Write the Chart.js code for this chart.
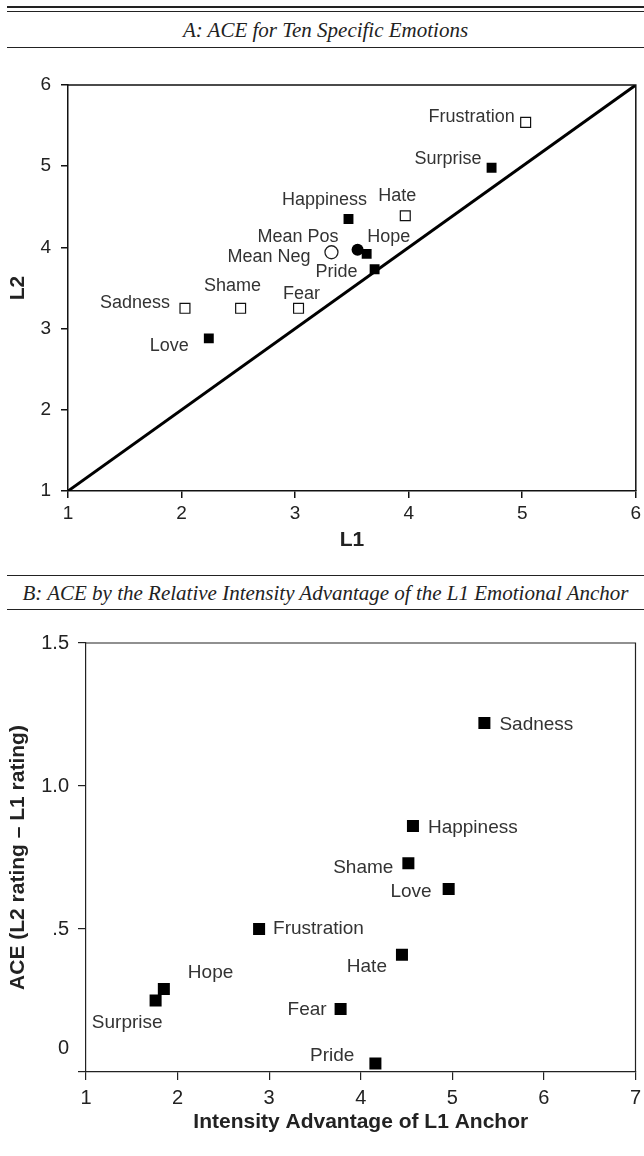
<!DOCTYPE html>
<html>
<head>
<meta charset="utf-8">
<script src="https://cdn.jsdelivr.net/npm/chart.js@4.4.1/dist/chart.umd.min.js"></script>
<style>
  html, body { margin: 0; padding: 0; background: #fff; }
  body { width: 644px; height: 1156px; position: relative; overflow: hidden; }
  .rule { position: absolute; left: 7px; right: 0; background: #222; }
  .title {
    position: absolute; left: 7px; right: 0; text-align: center;
    font: italic 21px "Liberation Serif", "Times New Roman", serif;
    color: #222; line-height: 24px;
  }
  .panel { position: absolute; left: 0; width: 644px; }
</style>
</head>
<body>
<div class="rule" style="top:6px;height:2px"></div>
<div class="rule" style="top:11px;height:1px"></div>
<div class="title" style="top:18px">A: ACE for Ten Specific Emotions</div>
<div class="rule" style="top:47px;height:1px"></div>
<div class="panel" style="top:60px;height:500px"><canvas id="chartA"></canvas></div>

<div class="rule" style="top:575px;height:1px"></div>
<div class="title" style="top:581px">B: ACE by the Relative Intensity Advantage of the L1 Emotional Anchor</div>
<div class="rule" style="top:609px;height:1px"></div>
<div class="panel" style="top:615px;height:530px"><canvas id="chartB"></canvas></div>

<script>
// ---- Panel A: mean L2 rating against mean L1 rating ----
const emotionsA = ['Frustration', 'Surprise', 'Happiness', 'Hate', 'Hope', 'Pride', 'Sadness', 'Shame', 'Fear', 'Love'];
const l1A = [5.03, 4.73, 3.47, 3.97, 3.63, 3.70, 2.03, 2.52, 3.03, 2.24];
const l2A = [5.54, 4.98, 4.35, 4.39, 3.92, 3.73, 3.25, 3.25, 3.25, 2.88];
const positiveA = [false, true, true, false, true, true, false, false, false, true];
const meanNames = ['Mean Pos', 'Mean Neg'];
const meanL1 = [3.55, 3.32];
const meanL2 = [3.97, 3.94];
const ticksA = [1, 2, 3, 4, 5, 6];

// ---- Panel B: ACE against intensity advantage ----
const emotionsB = ['Sadness', 'Happiness', 'Shame', 'Love', 'Frustration', 'Hate', 'Hope', 'Surprise', 'Fear', 'Pride'];
const advantageB = [5.35, 4.57, 4.52, 4.96, 2.89, 4.45, 1.85, 1.76, 3.78, 4.16];
const aceB = [1.22, 0.86, 0.73, 0.64, 0.50, 0.41, 0.29, 0.25, 0.22, 0.03];
const ticksBx = [1, 2, 3, 4, 5, 6, 7];
const ticksBy = [0, 0.5, 1.0, 1.5];
const tickLabelsBy = ['0', '.5', '1.0', '1.5'];

// label placement: [textAlign, dx, dy] from the marker centre
const placeA = {
  'Frustration': ['right', -11, -5],
  'Surprise': ['right', -10, -9],
  'Happiness': ['center', -24, -19],
  'Hate': ['center', -8, -20],
  'Hope': ['center', 22, -17],
  'Pride': ['right', -17, 3],
  'Sadness': ['right', -15, -5],
  'Shame': ['center', -8, -22],
  'Fear': ['center', 3, -14],
  'Love': ['right', -20, 8],
  'Mean Pos': ['right', -19, -13],
  'Mean Neg': ['right', -21, 5]
};
const placeB = {
  'Sadness': ['left', 15, 2],
  'Happiness': ['left', 15, 2],
  'Shame': ['right', -15, 5],
  'Love': ['right', -17, 3],
  'Frustration': ['left', 14, 0],
  'Hate': ['right', -15, 12],
  'Hope': ['left', 24, -16],
  'Surprise': ['right', 7, 22],
  'Fear': ['right', -14, 1],
  'Pride': ['right', -21, -8]
};

Chart.defaults.font.family = '"Liberation Sans", Arial, Helvetica, sans-serif';
Chart.defaults.color = '#222';

const pick = (arr, keep) => arr.filter((_, i) => keep[i]);
const toPoints = (xs, ys) => xs.map((x, i) => ({ x, y: ys[i] }));

// top and right sides of the plot box
const plotFrame = {
  id: 'plotFrame',
  afterDatasetsDraw(chart, args, opts) {
    const { ctx, chartArea: a } = chart;
    ctx.save();
    ctx.strokeStyle = opts.color;
    ctx.lineWidth = opts.width;
    ctx.beginPath();
    ctx.moveTo(a.left, a.top);
    ctx.lineTo(a.right, a.top);
    ctx.lineTo(a.right, a.bottom);
    ctx.stroke();
    ctx.restore();
  }
};

// emotion names next to the markers
const pointNames = {
  id: 'pointNames',
  afterDatasetsDraw(chart, args, opts) {
    const { ctx } = chart;
    ctx.save();
    ctx.font = opts.font;
    ctx.fillStyle = opts.color;
    ctx.textBaseline = 'middle';
    chart.data.datasets.forEach((ds, i) => {
      if (!ds.names) return;
      chart.getDatasetMeta(i).data.forEach((pt, j) => {
        const name = ds.names[j];
        const [align, dx, dy] = opts.place[name];
        ctx.textAlign = align;
        ctx.fillText(name, pt.x + dx, pt.y + dy);
      });
    });
    ctx.restore();
  }
};

// the "0" label of panel B sits a little above its tick
const raisedZero = {
  id: 'raisedZero',
  afterDraw(chart, args, opts) {
    if (!opts.enabled) return;
    const y = chart.scales.y;
    const { ctx } = chart;
    ctx.save();
    ctx.font = opts.font;
    ctx.fillStyle = '#222';
    ctx.textAlign = 'right';
    ctx.textBaseline = 'middle';
    ctx.fillText('0', y.right - opts.inset, y.getPixelForValue(0) + opts.dy);
    ctx.restore();
  }
};

function fixedAxis(size, horizontal) {
  return function (scale) {
    if (horizontal) scale.height = size; else scale.width = size;
    scale.paddingLeft = 0;
    scale.paddingRight = 0;
    scale.paddingTop = 0;
    scale.paddingBottom = 0;
  };
}

// ---------- Chart A ----------
new Chart(document.getElementById('chartA'), {
  type: 'scatter',
  data: {
    datasets: [
      {
        names: pick(emotionsA, positiveA),
        data: toPoints(pick(l1A, positiveA), pick(l2A, positiveA)),
        pointStyle: 'rect', pointRadius: 7, borderWidth: 0,
        backgroundColor: '#000', order: 1
      },
      {
        names: pick(emotionsA, positiveA.map(p => !p)),
        data: toPoints(pick(l1A, positiveA.map(p => !p)), pick(l2A, positiveA.map(p => !p))),
        pointStyle: 'rect', pointRadius: 7, borderWidth: 1.2,
        borderColor: '#111', backgroundColor: '#fff', order: 1
      },
      {
        names: [meanNames[0]],
        data: toPoints([meanL1[0]], [meanL2[0]]),
        pointStyle: 'circle', pointRadius: 6, borderWidth: 0,
        backgroundColor: '#000', order: 2
      },
      {
        names: [meanNames[1]],
        data: toPoints([meanL1[1]], [meanL2[1]]),
        pointStyle: 'circle', pointRadius: 6.5, borderWidth: 1.3,
        borderColor: '#222', backgroundColor: '#fff', order: 2
      },
      {
        type: 'line',
        data: [{ x: ticksA[0], y: ticksA[0] }, { x: ticksA[ticksA.length - 1], y: ticksA[ticksA.length - 1] }],
        borderColor: '#000', borderWidth: 3, pointRadius: 0, order: 3
      }
    ]
  },
  options: {
    responsive: true,
    maintainAspectRatio: false,
    animation: false,
    events: [],
    layout: { padding: { top: 25, right: 1, bottom: 0, left: 0 } },
    scales: {
      x: {
        type: 'linear', min: 1, max: 6,
        afterBuildTicks: s => { s.ticks = ticksA.map(v => ({ value: v })); },
        afterFit: fixedAxis(69, true),
        border: { color: '#111', width: 1.5 },
        grid: { drawOnChartArea: false, tickLength: 7, color: '#111', lineWidth: 1.5 },
        ticks: { padding: 4, font: { size: 19 } },
        title: { display: true, text: 'L1', font: { size: 21, weight: 'bold' }, padding: { top: 0, bottom: 7 } }
      },
      y: {
        type: 'linear', min: 1, max: 6,
        afterBuildTicks: s => { s.ticks = ticksA.map(v => ({ value: v })); },
        afterFit: fixedAxis(68, false),
        border: { color: '#111', width: 1.5 },
        grid: { drawOnChartArea: false, tickLength: 7, color: '#111', lineWidth: 1.5 },
        ticks: { padding: 10, font: { size: 19 } },
        title: { display: true, text: 'L2', font: { size: 21, weight: 'bold' }, padding: { top: 6, bottom: 0 } }
      }
    },
    plugins: {
      legend: { display: false },
      tooltip: { enabled: false },
      plotFrame: { color: '#111', width: 1.5 },
      pointNames: { font: '18px "Liberation Sans", Arial, sans-serif', color: '#333', place: placeA },
      raisedZero: { enabled: false }
    }
  },
  plugins: [plotFrame, pointNames, raisedZero]
});

// ---------- Chart B ----------
new Chart(document.getElementById('chartB'), {
  type: 'scatter',
  data: {
    datasets: [
      {
        names: emotionsB,
        data: toPoints(advantageB, aceB),
        pointStyle: 'rect', pointRadius: 8.5, borderWidth: 0,
        backgroundColor: '#000'
      }
    ]
  },
  options: {
    responsive: true,
    maintainAspectRatio: false,
    animation: false,
    events: [],
    layout: { padding: { top: 28, right: 4, bottom: 0, left: 0 } },
    scales: {
      x: {
        type: 'linear', min: 1, max: 7,
        afterBuildTicks: s => { s.ticks = ticksBx.map(v => ({ value: v })); },
        afterFit: fixedAxis(73, true),
        border: { color: '#222', width: 1.2 },
        grid: { drawOnChartArea: false, tickLength: 8, color: '#222', lineWidth: 1.2 },
        ticks: { padding: 6, font: { size: 20 } },
        title: { display: true, text: 'Intensity Advantage of L1 Anchor', font: { size: 21, weight: 'bold' }, padding: { top: 0, bottom: 10 } }
      },
      y: {
        type: 'linear', min: 0, max: 1.5,
        afterBuildTicks: s => { s.ticks = ticksBy.map(v => ({ value: v })); },
        afterFit: fixedAxis(86, false),
        border: { color: '#222', width: 1.2 },
        grid: { drawOnChartArea: false, tickLength: 8, color: '#222', lineWidth: 1.2 },
        ticks: {
          padding: 9, font: { size: 20 },
          callback: v => (v === 0 ? '' : tickLabelsBy[ticksBy.indexOf(v)])
        },
        title: { display: true, text: 'ACE (L2 rating \u2013 L1 rating)', font: { size: 21, weight: 'bold' }, padding: { top: 6, bottom: 0 } }
      }
    },
    plugins: {
      legend: { display: false },
      tooltip: { enabled: false },
      plotFrame: { color: '#222', width: 1.2 },
      pointNames: { font: '19px "Liberation Sans", Arial, sans-serif', color: '#333', place: placeB },
      raisedZero: { enabled: true, font: '20px "Liberation Sans", Arial, sans-serif', inset: 17, dy: -24 }
    }
  },
  plugins: [plotFrame, pointNames, raisedZero]
});
</script>
</body>
</html>
